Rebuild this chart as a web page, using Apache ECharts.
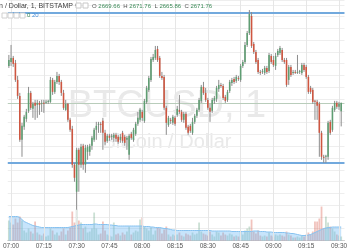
<!DOCTYPE html>
<html><head><meta charset="utf-8">
<script src="https://cdn.jsdelivr.net/npm/echarts@6/dist/echarts.min.js"></script>
<style>html,body{margin:0;padding:0;background:#fff}#c{width:350px;height:250px}</style>
</head><body><div id="c"></div>
<script>
// 1-minute categories, 06:59 .. 09:32
const times = ["06:59",
"07:00","07:01","07:02","07:03","07:04","07:05","07:06","07:07","07:08","07:09","07:10","07:11","07:12","07:13","07:14","07:15","07:16","07:17","07:18","07:19","07:20","07:21","07:22","07:23","07:24","07:25","07:26","07:27","07:28","07:29","07:30","07:31","07:32","07:33","07:34","07:35","07:36","07:37","07:38","07:39","07:40","07:41","07:42","07:43","07:44","07:45","07:46","07:47","07:48","07:49","07:50","07:51","07:52","07:53","07:54","07:55","07:56","07:57","07:58","07:59",
"08:00","08:01","08:02","08:03","08:04","08:05","08:06","08:07","08:08","08:09","08:10","08:11","08:12","08:13","08:14","08:15","08:16","08:17","08:18","08:19","08:20","08:21","08:22","08:23","08:24","08:25","08:26","08:27","08:28","08:29","08:30","08:31","08:32","08:33","08:34","08:35","08:36","08:37","08:38","08:39","08:40","08:41","08:42","08:43","08:44","08:45","08:46","08:47","08:48","08:49","08:50","08:51","08:52","08:53","08:54","08:55","08:56","08:57","08:58","08:59",
"09:00","09:01","09:02","09:03","09:04","09:05","09:06","09:07","09:08","09:09","09:10","09:11","09:12","09:13","09:14","09:15","09:16","09:17","09:18","09:19","09:20","09:21","09:22","09:23","09:24","09:25","09:26","09:27","09:28","09:29","09:30","09:31","09:32"];
const tickLabels = ["07:00","07:15","07:30","07:45","08:00","08:15","08:30","08:45","09:00","09:15","09:30"];

const opens = [2681,2682,2683,2681.75,2677.5,2673.5,2662.5,2665.75,2667.75,2669.75,
2674.25,2670.25,2671.75,2671.25,2671.75,2671.5,2671.75,2671.75,2672,2672,
2677.5,2674.5,2677,2678.5,2677,2674.25,2670,2671.5,2667.5,2665.25,
2656.25,2649.5,2660,2656.25,2661,2656.25,2659.5,2659.5,2661,2662.5,
2665,2666.25,2666.5,2667.25,2664.25,2662.25,2663.5,2663.25,2663,2663.75,
2663.25,2662.5,2664.25,2663.25,2662.5,2658.75,2664,2662.5,2664,2666.5,
2667.5,2669.5,2667.25,2672,2675,2677.5,2682.5,2683,2685.25,2683,
2678.5,2678.25,2670.5,2666.25,2667.5,2666.75,2668,2668.75,2670,2669.5,
2667.5,2669,2665.75,2666,2664.25,2667,2668.5,2670,2672.25,2675.75,
2674.25,2672.5,2670.5,2669.75,2672.25,2672.75,2675.25,2676.25,2676,2673.25,
2672.5,2674.75,2676.75,2677.75,2677.25,2678,2677.5,2681,2682,2686.25,
2689.25,2693.5,2686.5,2684.5,2682.5,2679.5,2679.5,2679.25,2680.5,2679.75,
2683.5,2682.5,2681,2683.75,2684.25,2685,2682.5,2682.5,2677.5,2680.75,
2679.25,2679.5,2679.25,2679.5,2679.25,2681.25,2680.75,2678.25,2675.5,2675,
2672.25,2672,2671.5,2664.25,2658.25,2658.25,2658.25,2667,2665,2670,
2671.75,2670.75,2669.66];
const closes = [2682.5,2683,2681.5,2677.5,2673.5,2662.5,2666,2668.25,2669.5,2674.25,
2670.5,2671.5,2671,2671.75,2671.25,2671.75,2671.5,2672,2672.25,2677.5,
2674.5,2677,2678.5,2677,2674.25,2670.5,2671.5,2667.5,2665,2656.25,
2653,2660,2656.25,2660.75,2656.25,2660.5,2660.75,2661,2663,2665,
2666,2666.5,2666.25,2664.25,2662,2663.5,2663,2663.5,2663.75,2662.75,
2662,2663.25,2662.25,2661.75,2663,2663.5,2663,2665,2666.5,2668,
2670,2668,2672.25,2675.5,2678,2682.75,2683.25,2685,2682.5,2678.5,
2678,2670.5,2666.75,2668,2667.25,2668.25,2666.5,2670.25,2669.5,2667.5,
2669,2665.5,2664.25,2664.75,2667,2668.5,2670,2672.5,2675.75,2674.25,
2672.5,2670.5,2669.5,2672.5,2673,2675.5,2676.25,2676,2673,2672.25,
2674.5,2677,2677.5,2677,2678.25,2677.75,2681,2682,2686.25,2689.25,
2694,2686,2684.5,2682,2679.5,2679.25,2679.75,2680.5,2679.5,2683.75,
2682,2681.25,2683.5,2684.75,2685.5,2682.5,2682,2676.25,2680.75,2678.75,
2679.5,2679.25,2679.5,2679.75,2681.25,2680,2678.25,2674.5,2674.5,2672,
2672,2671,2664.25,2658.25,2658,2658.5,2666.75,2664.25,2670.5,2671.75,
2670.75,2671.5,2671.76];
const lows = [2680.5,2681,2680.75,2677,2672.75,2662,2658.25,2665,2667,2669.25,
2670,2668,2667.5,2668,2668.75,2669.5,2669.25,2671.5,2671.5,2671.75,
2673.75,2674,2676.5,2676.25,2673.5,2670,2669.75,2667,2664.5,2655.5,
2652,2645,2649.5,2655.5,2655,2654.25,2657.5,2658.5,2660,2662,
2662.5,2664.25,2664.25,2660,2661.25,2661.75,2662.25,2662.5,2662,2662,
2661.5,2661.75,2661.75,2661,2660,2657.5,2662.5,2662,2663.5,2666,
2667,2667.25,2666.75,2671.5,2674.5,2677,2682,2682.5,2682,2678,
2677.5,2670,2663.75,2665.75,2666.5,2666.25,2666,2668.25,2669,2667,
2666.75,2665,2663.75,2664.25,2663.75,2666.5,2668,2669.5,2671.75,2673.75,
2672,2670,2667,2669.25,2671.5,2672,2674.5,2675.5,2672.5,2671.75,
2672,2674.25,2676,2676.5,2676.75,2677.25,2677,2680.5,2681.5,2685.75,
2688.75,2685.5,2684,2681.5,2679,2678.75,2679,2678.75,2679,2679.25,
2681.5,2680.75,2680,2683.25,2683.75,2682,2681.5,2675.75,2676.25,2678.25,
2678.75,2679,2679,2679,2678.75,2679.5,2677.75,2674,2674,2671.5,
2667.5,2667.5,2658.25,2657.5,2656.75,2656.75,2657.5,2663.75,2664.5,2669.5,
2670.25,2670,2665.86];
const highs = [2683.75,2686.25,2683.5,2682.5,2678.5,2674.25,2666.75,2668.75,2670.25,2675.75,
2674.75,2672,2672.5,2672.5,2672.25,2672.5,2672.5,2672.5,2672.5,2678.25,
2678,2677.5,2679.5,2679,2677.5,2675,2672.5,2671.75,2668,2666,
2656.75,2660.5,2660.5,2661.5,2661.5,2661.25,2661.25,2661.5,2663.5,2665.5,
2667,2667,2667,2668,2665,2664,2664,2664,2664.25,2664.25,
2663.75,2664,2664.75,2663.75,2663.5,2664,2664.5,2665.5,2667,2669.5,
2670.5,2670,2672.75,2676,2678.5,2683.25,2684,2686,2686,2683.5,
2679.5,2678.75,2671,2668.5,2668,2668.75,2668.5,2671,2673.75,2670,
2669.5,2669.5,2666.25,2666.5,2668,2669,2670.5,2673,2676.25,2677,
2675.5,2673,2671.5,2673,2673.5,2676,2677.5,2676.75,2676.5,2673.75,
2675,2677.5,2678,2678.25,2678.75,2678.5,2681.5,2682.5,2687,2689.75,
2695,2694.5,2687,2685,2683,2680,2680.25,2681,2681,2684.25,
2684,2683.5,2684.25,2685.25,2686,2685.5,2683,2683,2681.25,2681.25,
2680,2680,2683.75,2680,2681.75,2681.75,2681.25,2678.75,2676,2675.5,
2672.5,2672.5,2672,2664.75,2658.75,2658.75,2667.25,2667.5,2671,2672.25,
2672.25,2672,2671.76];
const volumes = [20,18,16,22,18,24,20,10,8,12,
9,7,19,8,6,5,7,4,5,12,
10,6,8,5,9,12,6,10,13,29,
18,31,20,18,12,14,8,9,12,28,
12,6,7,19,10,6,5,4,18,6,
7,5,8,6,9,14,6,8,10,9,
21,23,14,12,10,13,6,10,13,12,
7,11,14,6,4,6,5,6,8,5,
4,7,6,5,8,6,7,18,9,7,
6,5,9,6,4,9,8,5,8,6,
5,7,6,4,5,4,9,6,10,12,
14,21,9,7,10,5,4,5,4,8,
5,4,6,5,6,5,4,9,6,5,
3,3,4,3,5,4,6,8,6,9,
19,19,22,34,12,24,18,14,12,9,
6,5,4];
const volumeMA = [24,24,24,24,24,23,21,19,18,17,
16,15,14.5,14,13.5,13,13,13,13,13,
13,13,13,13,13,13,13,13,13.5,14,
14.5,15,15.5,16,16,16,16,16,16,16.5,
16.5,16,16,16,16,16,15.5,15.5,15,15,
14.5,14.5,14.5,14.5,14.5,14.5,14.5,14.5,14.5,14.5,
14.5,14.5,14,14,14,13.5,13.5,13,13,13,
12.5,12,12,11.5,11,10.5,10.5,10,10,10,
10,10,10,10,10,10,10,10,10,10,
10,10,10,9.5,9.5,9.5,9.5,9.5,9.5,9.5,
9.5,9.5,9,9,9,9,9,9,9,9,
9,9,9.5,9.5,9.5,9,9,9,8.5,8.5,
8.5,8,8,8,8,8,8,7.5,7.5,7,
7,6.5,6,5.5,5,5,5,5.5,6,7,
8,9,10,11,12,12.5,13,13,13.5,13.5,
13.5,13.5,13.5];
const resistance = 2694.375, support = 2656.75;
const header = {o:"2669.66", h:"2671.76", l:"2665.86", c:"2671.76"};

const UP = '#5f9e73', DOWN = '#cf5640', WICK = '#8c8c8c';
const FONT = 'Liberation Sans, Arial, sans-serif';

const candleData = opens.map((o, i) => [i, o, closes[i], lows[i], highs[i]]);
const volData = volumes.map((v, i) => ({
  value: v,
  itemStyle: { color: closes[i] >= opens[i] ? 'rgba(107,165,131,0.35)' : 'rgba(215,84,66,0.35)' }
}));

function renderCandle(params, api) {
  const i = api.value(0);
  const o = api.value(1), c = api.value(2), l = api.value(3), h = api.value(4);
  const pO = api.coord([i, o]), pC = api.coord([i, c]);
  const pL = api.coord([i, l]), pH = api.coord([i, h]);
  const bw = api.size([1, 0])[0] * 0.72;
  const col = c >= o ? UP : DOWN;
  const top = Math.min(pO[1], pC[1]);
  const bh = Math.max(Math.abs(pO[1] - pC[1]), 1);
  return { type: 'group', children: [
    { type: 'line', shape: { x1: pH[0], y1: pH[1], x2: pL[0], y2: pL[1] }, style: { stroke: WICK, lineWidth: 1 } },
    { type: 'rect', shape: { x: pO[0] - bw / 2, y: top, width: bw, height: bh }, style: { fill: col } }
  ]};
}

const chart = echarts.init(document.getElementById('c'), null, { renderer: 'canvas' });
chart.setOption({
  animation: false,
  backgroundColor: '#ffffff',
  grid: { left: 0, right: 0, top: 0, bottom: 9.2 },
  xAxis: {
    type: 'category', data: times, boundaryGap: true,
    axisLine: { lineStyle: { color: '#cfcfcf' } },
    axisTick: { show: false },
    axisLabel: { interval: (i, v) => tickLabels.includes(v), fontSize: 6.5, color: '#555', margin: 2.5, fontFamily: FONT },
    splitLine: { show: false }
  },
  yAxis: [
    { type: 'value', min: 2637.3, max: 2697.5, interval: 2.95, scale: true,
      axisLine: { show: false }, axisTick: { show: false }, axisLabel: { show: false },
      splitLine: { lineStyle: { color: '#eeeeee', width: 1 } } },
    { type: 'value', min: 0, max: 240.8, show: false, splitLine: { show: false } }
  ],
  graphic: [
    { type: 'text', z: 0, silent: true, style: { text: 'BTCUSD, 1', x: 167, y: 107, align: 'center', verticalAlign: 'middle', fontSize: 38, fontFamily: FONT, fill: '#e9e9e9' } },
    { type: 'text', z: 0, silent: true, style: { text: 'Bitcoin / Dollar', x: 167, y: 142, align: 'center', verticalAlign: 'middle', fontSize: 20, fontFamily: FONT, fill: '#e9e9e9' } },
    { type: 'text', z: 100, silent: true, style: { text: 'Bitcoin / Dollar, 1, BITSTAMP ▾', x: -18, y: 6, verticalAlign: 'middle', fontSize: 7, fontFamily: FONT, fill: '#3d3d3d' } },
    { type: 'rect', z: 100, silent: true, shape: { x: 76, y: 3, width: 5, height: 5 }, style: { fill: '#fff', stroke: '#c8c8c8', lineWidth: 1 } },
    { type: 'rect', z: 100, silent: true, shape: { x: 83, y: 3, width: 5, height: 5 }, style: { fill: '#fff', stroke: '#c8c8c8', lineWidth: 1 } },
    { type: 'text', z: 100, silent: true, style: { x: 92, y: 6, verticalAlign: 'middle', fontSize: 6, fontFamily: FONT,
      text: '{k|O} {v|' + header.o + '}  {k|H} {v|' + header.h + '}  {k|L} {v|' + header.l + '}  {k|C} {v|' + header.c + '}',
      rich: { k: { fill: '#555', fontSize: 6 }, v: { fill: '#3b8a57', fontSize: 6 } } } },
    { type: 'rect', z: 100, silent: true, shape: { x: 2, y: 13, width: 5, height: 5 }, style: { fill: '#fff', stroke: '#d0d0d0', lineWidth: 1 } },
    { type: 'rect', z: 100, silent: true, shape: { x: 8, y: 13, width: 5, height: 5 }, style: { fill: '#fff', stroke: '#d0d0d0', lineWidth: 1 } },
    { type: 'rect', z: 100, silent: true, shape: { x: 14, y: 13, width: 5, height: 5 }, style: { fill: '#fff', stroke: '#d0d0d0', lineWidth: 1 } },
    { type: 'rect', z: 100, silent: true, shape: { x: 20, y: 13, width: 5, height: 5 }, style: { fill: '#fff', stroke: '#d0d0d0', lineWidth: 1 } },
    { type: 'text', z: 100, silent: true, style: { x: 27, y: 15.5, verticalAlign: 'middle', fontSize: 6, fontFamily: FONT,
      text: '{g|0} {b|20}', rich: { g: { fill: '#3b8a57', fontSize: 6 }, b: { fill: '#4a90d9', fontSize: 6 } } } }
  ],
  series: [
    { type: 'line', name: 'timeGrid', data: closes, symbol: 'none', silent: true, z: 1,
      lineStyle: { opacity: 0 },
      markLine: { silent: true, symbol: ['none', 'none'], label: { show: false },
        lineStyle: { color: '#e6e6e6', width: 1, type: 'solid' },
        data: tickLabels.map(t => ({ xAxis: t })) } },
    { type: 'bar', name: 'Volume', yAxisIndex: 1, data: volData, barWidth: 1.8, z: 2, silent: true },
    { type: 'line', name: 'Volume MA', yAxisIndex: 1, data: volumeMA, symbol: 'none', z: 3, silent: true,
      lineStyle: { color: '#86c2f0', width: 1 },
      areaStyle: { color: 'rgba(110,185,245,0.55)' } },
    { type: 'custom', name: 'BTCUSD', renderItem: renderCandle, data: candleData, z: 5,
      encode: { x: 0, y: [1, 2, 3, 4] },
      markLine: { silent: true, symbol: ['none', 'none'], label: { show: false },
        data: [
          { yAxis: closes[closes.length - 1], lineStyle: { color: '#b9cdbb', width: 1, type: 'solid' } },
          { yAxis: resistance, lineStyle: { color: '#72a9dd', width: 2, type: 'solid' } },
          { yAxis: support, lineStyle: { color: '#72a9dd', width: 2, type: 'solid' } }
        ] } }
  ]
});
</script></body></html>
